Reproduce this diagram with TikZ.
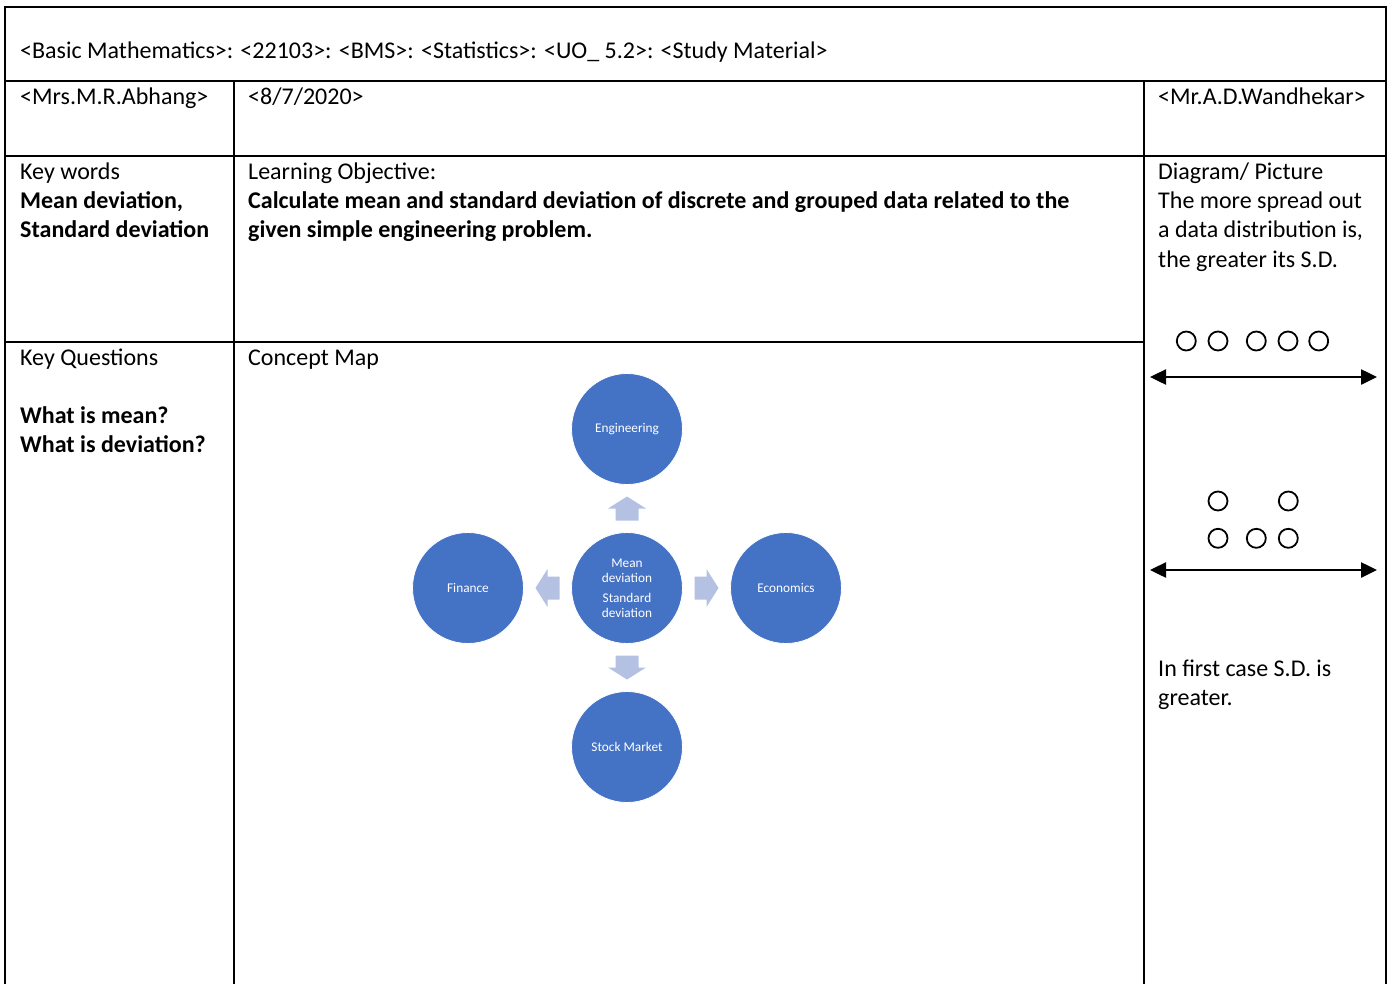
\documentclass[tikz,border=0pt]{standalone}
\usepackage{fontspec}
\setmainfont{Carlito}
\usetikzlibrary{arrows.meta,calc}
\definecolor{nodeblue}{HTML}{4472C4}
\definecolor{arrowfill}{HTML}{B4C1E3}
\tikzset{
  grid/.style={line width=2pt, line cap=rect},
  txt/.style={anchor=base west, inner sep=0pt, font=\fontsize{24}{29}\selectfont},
  btxt/.style={txt, font=\fontsize{24}{29}\selectfont\bfseries},
  topic/.style={circle, fill=nodeblue, draw=white, line width=0.8pt, minimum size=111pt, inner sep=0pt, text=white, align=center, font=\fontsize{13.3}{15}\selectfont},
  dot/.style={circle, draw=black, line width=1.8pt, minimum size=19pt, inner sep=0pt},
  spread/.style={line width=2.5pt, {Triangle[length=16pt,width=15pt]}-{Triangle[length=16pt,width=15pt]}},
}
\newcommand\blockarrow[2]{%
  \fill[arrowfill, shift={#1}, rotate=#2] (-12,-11.5) -- (0,-11.5) -- (0,-19) -- (12,0) -- (0,19) -- (0,11.5) -- (-12,11.5) -- cycle;}
\begin{document}
\begin{tikzpicture}[x=1pt,y=-1pt]
\useasboundingbox (0,0) rectangle (1392,983);
% table grid
\draw[grid] (5,983) -- (5,7) -- (1386,7) -- (1386,983);
\draw[grid] (5,81) -- (1386,81);
\draw[grid] (5,156) -- (1386,156);
\draw[grid] (5,342) -- (1144,342);
\draw[grid] (234,81) -- (234,983);
\draw[grid] (1144,81) -- (1144,983);
% texts
\node[txt] (title) at (20,58) {<Basic Mathematics>: <22103>: <BMS>: <Statistics>: <UO\_ 5.2>: <Study Material>};
\node[txt] (t1) at (20,104) {<Mrs.M.R.Abhang>};
\node[txt] (date) at (248,104) {<8/7/2020>};
\node[txt] (t2) at (1158,104) {<Mr.A.D.Wandhekar>};
\node[txt] (kw) at (20,179) {Key words};
\node[btxt] (kw1) at (20,208) {Mean deviation,};
\node[btxt] (kw2) at (20,237) {Standard deviation};
\node[txt] (lo) at (248,179) {Learning Objective:};
\node[btxt] (lo1) at (248,208) {Calculate mean and standard deviation of discrete and grouped data related to the};
\node[btxt] (lo2) at (248,237) {given simple engineering problem.};
\node[txt] (dp) at (1158,179) {Diagram/ Picture};
\node[txt] (dp1) at (1158,208) {The more spread out};
\node[txt] (dp2) at (1158,237) {a data distribution is,};
\node[txt] (dp3) at (1158,267) {the greater its S.D.};
\node[txt] (kq) at (20,365) {Key Questions};
\node[btxt] (kq1) at (20,423) {What is mean?};
\node[btxt] (kq2) at (20,452) {What is deviation?};
\node[txt] (cm) at (248,365) {Concept Map};
\node[txt] (fc1) at (1158,676) {In first case S.D. is};
\node[txt] (fc2) at (1158,705) {greater.};
% concept map
\node[topic] (c) at (627,588) {Mean\\deviation\\[5pt]Standard\\deviation};
\node[topic] (eng) at (627,429) {Engineering};
\node[topic] (fin) at (468,588) {Finance};
\node[topic] (eco) at (786,588) {Economics};
\node[topic] (stk) at (627,747) {Stock Market};
\blockarrow{($(c.north)!0.5!(eng.south)$)}{90}
\blockarrow{($(c.south)!0.5!(stk.north)$)}{-90}
\blockarrow{($(c.west)!0.5!(fin.east)$)}{180}
\blockarrow{($(c.east)!0.5!(eco.west)$)}{0}
% spread diagram
\node[dot] (a1) at (1186.3,341) {};
\node[dot] (a2) at (1218,341) {};
\node[dot] (a3) at (1256.3,341) {};
\node[dot] (a4) at (1288,341) {};
\node[dot] (a5) at (1318.7,341) {};
\coordinate (l1) at (1150,377);
\coordinate (r1) at (1377,377);
\draw[spread] (l1) -- (r1);
\node[dot] (b1) at (1218,501) {};
\node[dot] (b2) at (1288.3,501) {};
\node[dot] (b3) at (1218,538.3) {};
\node[dot] (b4) at (1256.3,538.3) {};
\node[dot] (b5) at (1288.3,538.3) {};
\coordinate (l2) at (1150,570);
\coordinate (r2) at (1377,570);
\draw[spread] (l2) -- (r2);
\end{tikzpicture}
\end{document}
